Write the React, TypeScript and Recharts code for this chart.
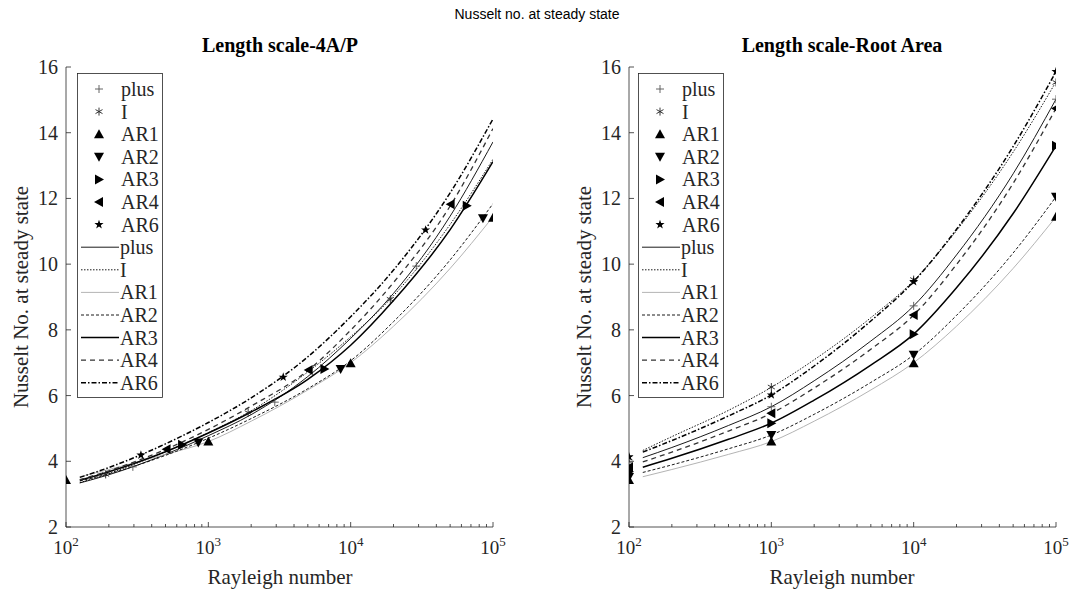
import { ComposedChart, Legend, Line, Scatter, XAxis, YAxis } from "recharts";

const SERIF = '"Liberation Serif", "Times New Roman", serif';
const SANS = '"Liberation Sans", Arial, sans-serif';

const names = ["plus", "I", "AR1", "AR2", "AR3", "AR4", "AR6"];
const decadeRa = [100, 1000, 10000, 100000];
const xTicks = [
  100, 200, 300, 400, 500, 600, 700, 800, 900, 1000, 2000, 3000, 4000, 5000,
  6000, 7000, 8000, 9000, 10000, 20000, 30000, 40000, 50000, 60000, 70000,
  80000, 90000, 100000,
];
const yTicks = [2, 4, 6, 8, 10, 12, 14, 16];
const fitRa = [125, 200, 500, 1000, 2000, 5000, 10000, 20000, 50000, 100000];

// left panel, length scale 4A/P: measured points
const leftPlusRa = [295, 2930, 28900];
const leftPlusNu = [3.83, 5.8, 9.94];
const leftIRa = [190, 1905, 19000];
const leftINu = [3.6, 5.48, 8.93];
const leftAR1Ra = [100, 1000, 10000, 100000];
const leftAR1Nu = [3.43, 4.6, 6.98, 11.41];
const leftAR2Ra = [850, 8500, 85000];
const leftAR2Nu = [4.57, 6.81, 11.4];
const leftAR3Ra = [654, 6540, 65400];
const leftAR3Nu = [4.5, 6.81, 11.78];
const leftAR4Ra = [509, 5070, 50400];
const leftAR4Nu = [4.37, 6.78, 11.82];
const leftAR6Ra = [336, 3360, 33600];
const leftAR6Nu = [4.19, 6.56, 11.04];

// left panel: fitted curves read at fitRa
const leftFitPlus = [3.34, 3.59, 4.21, 4.78, 5.42, 6.58, 7.74, 9.11, 11.46, 13.72];
const leftFitI = [3.35, 3.63, 4.29, 4.87, 5.54, 6.72, 7.79, 9.04, 11.21, 13.19];
const leftFitAR1 = [3.53, 3.75, 4.21, 4.6, 5.22, 6.17, 7.0, 8.11, 9.87, 11.44];
const leftFitAR2 = [3.4, 3.62, 4.18, 4.7, 5.3, 6.21, 7.06, 8.25, 10.13, 11.84];
const leftFitAR3 = [3.42, 3.68, 4.29, 4.86, 5.5, 6.49, 7.53, 8.89, 11.05, 13.12];
const leftFitAR4 = [3.44, 3.71, 4.36, 4.97, 5.68, 6.76, 7.99, 9.44, 11.77, 14.13];
const leftFitAR6 = [3.51, 3.81, 4.53, 5.18, 5.93, 7.18, 8.4, 9.82, 12.17, 14.42];

// right panel, length scale root area: measured points at decadeRa
const rightPlusNu = [3.97, 5.66, 8.73, 15.02];
const rightINu = [4.1, 6.26, 9.53, 15.53];
const rightAR1Nu = [3.43, 4.6, 6.98, 11.44];
const rightAR2Nu = [3.52, 4.8, 7.24, 12.05];
const rightAR3Nu = [3.68, 5.16, 7.87, 13.6];
const rightAR4Nu = [3.82, 5.46, 8.45, 14.74];
const rightAR6Nu = [4.14, 6.02, 9.47, 15.86];

// right panel: fitted curves read at fitRa
const rightFitPlus = [4.11, 4.42, 5.09, 5.66, 6.45, 7.66, 8.73, 10.28, 12.75, 15.02];
const rightFitI = [4.33, 4.75, 5.55, 6.25, 7.09, 8.37, 9.5, 11.02, 13.41, 15.55];
const rightFitAR1 = [3.53, 3.75, 4.21, 4.6, 5.22, 6.17, 7.0, 8.11, 9.87, 11.44];
const rightFitAR2 = [3.66, 3.89, 4.38, 4.8, 5.43, 6.4, 7.24, 8.44, 10.34, 12.05];
const rightFitAR3 = [3.82, 4.09, 4.67, 5.16, 5.86, 6.93, 7.87, 9.28, 11.54, 13.6];
const rightFitAR4 = [3.98, 4.28, 4.92, 5.46, 6.23, 7.41, 8.45, 9.99, 12.46, 14.74];
const rightFitAR6 = [4.28, 4.63, 5.38, 6.02, 6.9, 8.27, 9.47, 11.06, 13.58, 15.86];

type Pt = { ra: number; nu: number };
const zip = (ra: number[], nu: number[]): Pt[] => ra.map((r, i) => ({ ra: r, nu: nu[i] }));

const leftMarkers: Record<string, Pt[]> = {
  plus: zip(leftPlusRa, leftPlusNu),
  I: zip(leftIRa, leftINu),
  AR1: zip(leftAR1Ra, leftAR1Nu),
  AR2: zip(leftAR2Ra, leftAR2Nu),
  AR3: zip(leftAR3Ra, leftAR3Nu),
  AR4: zip(leftAR4Ra, leftAR4Nu),
  AR6: zip(leftAR6Ra, leftAR6Nu),
};
const leftFits: Record<string, Pt[]> = {
  plus: zip(fitRa, leftFitPlus),
  I: zip(fitRa, leftFitI),
  AR1: zip(fitRa, leftFitAR1),
  AR2: zip(fitRa, leftFitAR2),
  AR3: zip(fitRa, leftFitAR3),
  AR4: zip(fitRa, leftFitAR4),
  AR6: zip(fitRa, leftFitAR6),
};
const rightMarkers: Record<string, Pt[]> = {
  plus: zip(decadeRa, rightPlusNu),
  I: zip(decadeRa, rightINu),
  AR1: zip(decadeRa, rightAR1Nu),
  AR2: zip(decadeRa, rightAR2Nu),
  AR3: zip(decadeRa, rightAR3Nu),
  AR4: zip(decadeRa, rightAR4Nu),
  AR6: zip(decadeRa, rightAR6Nu),
};
const rightFits: Record<string, Pt[]> = {
  plus: zip(fitRa, rightFitPlus),
  I: zip(fitRa, rightFitI),
  AR1: zip(fitRa, rightFitAR1),
  AR2: zip(fitRa, rightFitAR2),
  AR3: zip(fitRa, rightFitAR3),
  AR4: zip(fitRa, rightFitAR4),
  AR6: zip(fitRa, rightFitAR6),
};

const lineStyle: Record<string, { stroke: string; strokeWidth: number; strokeDasharray?: string }> = {
  plus: { stroke: "#000", strokeWidth: 0.9 },
  I: { stroke: "#000", strokeWidth: 0.9, strokeDasharray: "1.5 1.5" },
  AR1: { stroke: "#b4b4b4", strokeWidth: 1 },
  AR2: { stroke: "#000", strokeWidth: 0.9, strokeDasharray: "3 2" },
  AR3: { stroke: "#000", strokeWidth: 1.5 },
  AR4: { stroke: "#333", strokeWidth: 1.3, strokeDasharray: "5 4" },
  AR6: { stroke: "#000", strokeWidth: 1.5, strokeDasharray: "5 2 1.5 2" },
};

function Marker({ kind, cx, cy }: { kind: string; cx: number; cy: number }) {
  if (cx == null || cy == null) return null;
  switch (kind) {
    case "plus":
      return (
        <g stroke="#555" strokeWidth={0.9}>
          <line x1={cx - 4} x2={cx + 4} y1={cy} y2={cy} />
          <line x1={cx} x2={cx} y1={cy - 4} y2={cy + 4} />
        </g>
      );
    case "I":
      return (
        <g stroke="#222" strokeWidth={0.9}>
          <line x1={cx} x2={cx} y1={cy - 4} y2={cy + 4} />
          <line x1={cx - 3.5} x2={cx + 3.5} y1={cy - 2} y2={cy + 2} />
          <line x1={cx - 3.5} x2={cx + 3.5} y1={cy + 2} y2={cy - 2} />
        </g>
      );
    case "AR1":
      return <polygon points={`${cx},${cy - 5} ${cx + 5},${cy + 4} ${cx - 5},${cy + 4}`} fill="#000" />;
    case "AR2":
      return <polygon points={`${cx - 5},${cy - 4} ${cx + 5},${cy - 4} ${cx},${cy + 5}`} fill="#000" />;
    case "AR3":
      return <polygon points={`${cx - 4},${cy - 5} ${cx + 5},${cy} ${cx - 4},${cy + 5}`} fill="#000" />;
    case "AR4":
      return <polygon points={`${cx + 4},${cy - 5} ${cx - 5},${cy} ${cx + 4},${cy + 5}`} fill="#000" />;
    default: {
      const pts: string[] = [];
      for (let k = 0; k < 10; k++) {
        const r = k % 2 === 0 ? 4.8 : 1.9;
        const a = -Math.PI / 2 + (k * Math.PI) / 5;
        pts.push(`${cx + r * Math.cos(a)},${cy + r * Math.sin(a)}`);
      }
      return <polygon points={pts.join(" ")} fill="#000" />;
    }
  }
}

function XTick(props: any) {
  const { x, y, payload } = props;
  const v = payload.value;
  const major = decadeRa.includes(v);
  return (
    <g>
      <line x1={x} x2={x} y1={y} y2={y - (major ? 5 : 3)} stroke="#262626" strokeWidth={0.8} />
      {major && (
        <text x={x} y={y + 27} textAnchor="middle" fontFamily={SERIF} fontSize={19} fill="#262626">
          10
          <tspan dy={-8} fontSize={13}>
            {Math.round(Math.log10(v))}
          </tspan>
        </text>
      )}
    </g>
  );
}

function YTick(props: any) {
  const { x, y, payload } = props;
  return (
    <g>
      <line x1={x} x2={x + 5} y1={y} y2={y} stroke="#262626" strokeWidth={0.8} />
      <text x={x - 8} y={y + 7} textAnchor="end" fontFamily={SERIF} fontSize={20} fill="#262626">
        {payload.value}
      </text>
    </g>
  );
}

function LegendBox() {
  const rowH = 22.6;
  const y0 = 16;
  return (
    <svg width={87} height={326} style={{ display: "block" }}>
      <rect x={0.5} y={0.5} width={85} height={324} fill="#fff" stroke="#262626" strokeWidth={0.8} />
      {names.map((n, i) => (
        <g key={"m" + n}>
          <Marker kind={n} cx={22} cy={y0 + i * rowH} />
          <text x={44} y={y0 + i * rowH + 7} fontFamily={SERIF} fontSize={20} fill="#262626">
            {n}
          </text>
        </g>
      ))}
      {names.map((n, i) => {
        const yy = y0 + (i + 7) * rowH;
        return (
          <g key={"l" + n}>
            <line x1={4} x2={42} y1={yy} y2={yy} {...lineStyle[n]} />
            <text x={43} y={yy + 7} fontFamily={SERIF} fontSize={20} fill="#262626">
              {n}
            </text>
          </g>
        );
      })}
    </svg>
  );
}

function Panel({
  left,
  width,
  legendLeft,
  markers,
  fits,
}: {
  left: number;
  width: number;
  legendLeft: number;
  markers: Record<string, Pt[]>;
  fits: Record<string, Pt[]>;
}) {
  return (
    <div style={{ position: "absolute", left, top: 0 }}>
      <ComposedChart width={width} height={596} margin={{ top: 67, right: width - 493, bottom: 29, left: 16 }}>
        <XAxis
          type="number"
          dataKey="ra"
          scale="log"
          domain={[100, 100000]}
          ticks={xTicks}
          interval={0}
          allowDataOverflow
          height={40}
          tickLine={false}
          tickSize={0}
          tickMargin={0}
          axisLine={{ stroke: "#262626", strokeWidth: 0.8 }}
          tick={(p: any) => <XTick {...p} />}
        />
        <YAxis
          type="number"
          dataKey="nu"
          domain={[2, 16]}
          ticks={yTicks}
          interval={0}
          allowDataOverflow
          width={50}
          tickLine={false}
          tickSize={0}
          tickMargin={0}
          axisLine={{ stroke: "#262626", strokeWidth: 0.8 }}
          tick={(p: any) => <YTick {...p} />}
        />
        {names.map((n) => (
          <Line
            key={"fit" + n}
            data={fits[n]}
            dataKey="nu"
            type="monotone"
            dot={false}
            activeDot={false}
            isAnimationActive={false}
            {...lineStyle[n]}
          />
        ))}
        {names.map((n) => (
          <Scatter
            key={"pt" + n}
            data={markers[n]}
            dataKey="nu"
            isAnimationActive={false}
            shape={(p: any) => <Marker kind={n} cx={p.cx} cy={p.cy} />}
          />
        ))}
        <Legend
          layout="horizontal"
          verticalAlign="middle"
          align="center"
          wrapperStyle={{ left: legendLeft, top: 73, width: 87, height: 326 }}
          content={() => <LegendBox />}
        />
      </ComposedChart>
    </div>
  );
}

export default function App() {
  return (
    <div style={{ position: "absolute", left: 0, top: 0, width: 1075, height: 596, background: "#fff" }}>
      <Panel left={0} width={540} legendLeft={77} markers={leftMarkers} fits={leftFits} />
      <Panel left={563} width={512} legendLeft={75} markers={rightMarkers} fits={rightFits} />
      <svg width={1075} height={596} style={{ position: "absolute", left: 0, top: 0, pointerEvents: "none" }}>
        <text x={537} y={19} textAnchor="middle" fontFamily={SANS} fontSize={14} fill="#000">
          Nusselt no. at steady state
        </text>
        <text x={280} y={52} textAnchor="middle" fontFamily={SERIF} fontWeight="bold" fontSize={20} fill="#000">
          Length scale-4A/P
        </text>
        <text x={842} y={52} textAnchor="middle" fontFamily={SERIF} fontWeight="bold" fontSize={20} fill="#000">
          Length scale-Root Area
        </text>
        <text x={280} y={584} textAnchor="middle" fontFamily={SERIF} fontSize={21} fill="#262626">
          Rayleigh number
        </text>
        <text x={842} y={584} textAnchor="middle" fontFamily={SERIF} fontSize={21} fill="#262626">
          Rayleigh number
        </text>
        <text transform="translate(28,297) rotate(-90)" textAnchor="middle" fontFamily={SERIF} fontSize={21} fill="#262626">
          Nusselt No. at steady state
        </text>
        <text transform="translate(591,297) rotate(-90)" textAnchor="middle" fontFamily={SERIF} fontSize={21} fill="#262626">
          Nusselt No. at steady state
        </text>
      </svg>
    </div>
  );
}
